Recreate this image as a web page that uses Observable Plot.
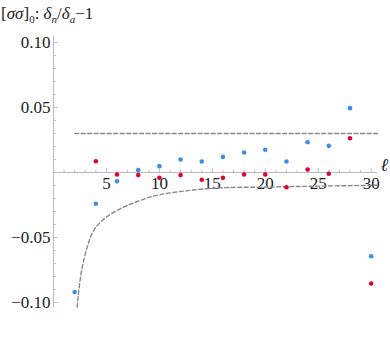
<!DOCTYPE html>
<html>
<head>
<meta charset="utf-8">
<script src="https://cdn.jsdelivr.net/npm/d3@7"></script>
<script src="https://cdn.jsdelivr.net/npm/@observablehq/plot@0.6"></script>
<style>
  html, body { margin: 0; padding: 0; background: #fff; }
  #wrap { width: 390px; height: 358px; position: relative; overflow: hidden; }
  #title { height: 28px; font-family: 'Liberation Serif', 'Times New Roman', Times, 'DejaVu Serif', serif; font-size: 17px; line-height: 28px; padding-left: 1px; color: #222; white-space: nowrap; }
  #title sub { font-size: 11px; line-height: 0; }
</style>
</head>
<body>
<div id="wrap">
  <div id="title">[<i>σσ</i>]<sub>0</sub>: <i>δ</i><sub><i>n</i></sub>/<i>δ</i><sub><i>a</i></sub>−1</div>
  <div id="chart"></div>
</div>
<script>
// ℓ values (even)
const ell = [2, 4, 6, 8, 10, 12, 14, 16, 18, 20, 22, 24, 26, 28, 30];
// blue series
const blueVals = [-0.092, -0.024, -0.0067, 0.0018, 0.0049, 0.0100, 0.0085, 0.0120, 0.0154, 0.0175, 0.0085, 0.0233, 0.0205, 0.0495, -0.0644];
// red series (starts at ℓ = 4)
const redEll = [4, 6, 8, 10, 12, 14, 16, 18, 20, 22, 24, 26, 28, 30];
const redVals = [0.0087, -0.0015, -0.0020, -0.0040, -0.0020, -0.0056, -0.0040, -0.0015, -0.0015, -0.0113, 0.0023, -0.0010, 0.0264, -0.0854];
// dashed reference level
const refLevel = 0.03;
const refEll = [2, 30.6];
// dashed curve
const curveEll = [2.23, 2.6, 3.18, 3.8, 4.6, 5.7, 6.95, 8.2, 9.5, 12.6, 15.75, 20, 25, 30.6];
const curveVals = [-0.1036, -0.078, -0.0575, -0.0446, -0.037, -0.0305, -0.0254, -0.0215, -0.0180, -0.0140, -0.0118, -0.0112, -0.0105, -0.0098];
// ticks
const xTickLabels = [5, 10, 15, 20, 25, 30];
const yTickLabels = [-0.10, -0.05, 0.05, 0.10];
const xMinor = d3.range(1, 31);
const yMinor = d3.range(-10, 11).map(i => i / 100);

const blue = ell.map((l, i) => ({l, v: blueVals[i]}));
const red = redEll.map((l, i) => ({l, v: redVals[i]}));
const curve = curveEll.map((l, i) => ({l, v: curveVals[i]}));
const refLine = refEll.map(l => ({l, v: refLevel}));

const axisColor = "#bdbdbd";
const textColor = "#222";
const serif = "'Liberation Serif', 'Times New Roman', Times, 'DejaVu Serif', serif";

const chart = Plot.plot({
  width: 390,
  height: 330,
  marginLeft: 53,
  marginRight: 13,
  marginTop: 7.5,
  marginBottom: 50.8,
  x: {domain: [0, 30.6], axis: null},
  y: {domain: [-0.104, 0.105], axis: null},
  style: {fontSize: "17px", fontFamily: serif, color: textColor, background: "white"},
  marks: [
    Plot.ruleY([0], {stroke: axisColor, strokeWidth: 1}),
    Plot.ruleX([0], {stroke: axisColor, strokeWidth: 1}),
    // x minor & major ticks (upward)
    Plot.link(xMinor, {x1: d => d, x2: d => d, y1: 0, y2: d => d % 5 === 0 ? 0.0032 : 0.002, stroke: axisColor, strokeWidth: 1}),
    // y minor & major ticks (rightward)
    Plot.link(yMinor.filter(d => d !== 0), {y1: d => d, y2: d => d, x1: 0, x2: d => Math.abs(Math.round(d * 100)) % 5 === 0 ? 0.4 : 0.24, stroke: axisColor, strokeWidth: 1}),
    // tick labels
    Plot.text(xTickLabels, {x: d => d, y: 0, text: d => String(d), dy: 11, lineAnchor: "middle", fill: textColor, fontSize: 17, fontFamily: serif}),
    Plot.text(yTickLabels, {x: 0, y: d => d, text: d => (d < 0 ? "−" : "") + Math.abs(d).toFixed(2), textAnchor: "end", dx: -3, fill: textColor, fontSize: 17, fontFamily: serif}),
    // axis label ℓ
    Plot.text(["ℓ"], {x: 30.6, y: 0, text: d => d, textAnchor: "start", dx: 3, dy: -7, fontStyle: "italic", fill: textColor, fontSize: 18, fontFamily: serif}),
    // dashed lines
    Plot.line(refLine, {x: "l", y: "v", stroke: "#8a8a8a", strokeWidth: 1.4, strokeDasharray: "4,2.5"}),
    Plot.line(curve, {x: "l", y: "v", curve: "catmull-rom", stroke: "#8a8a8a", strokeWidth: 1.4, strokeDasharray: "4,2.5"}),
    // points
    Plot.dot(blue, {x: "l", y: "v", r: 2.3, fill: "#3f8ee6", stroke: "none"}),
    Plot.dot(red, {x: "l", y: "v", r: 2.3, fill: "#dc0530", stroke: "none"})
  ]
});
document.getElementById("chart").appendChild(chart);
</script>
</body>
</html>
